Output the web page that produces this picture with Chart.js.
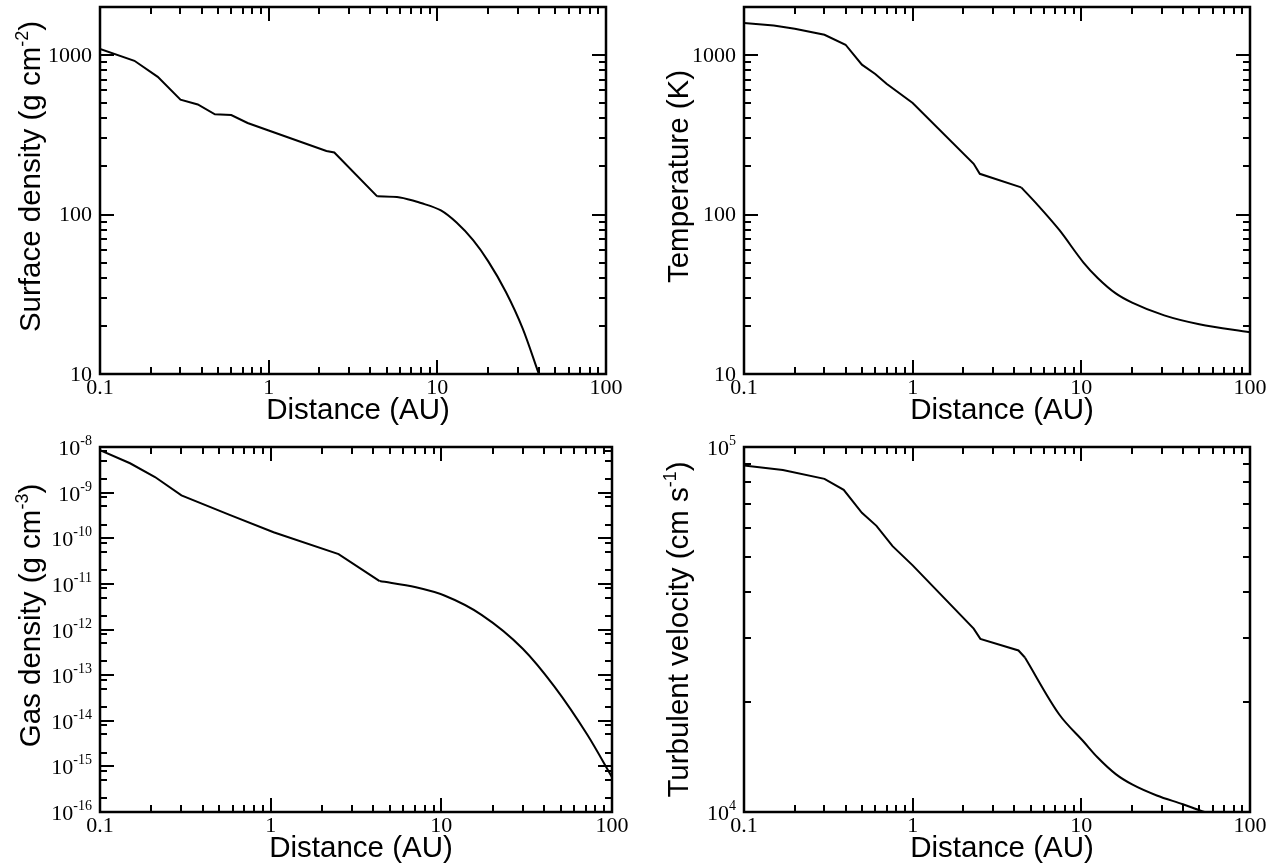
<!DOCTYPE html>
<html>
<head>
<meta charset="utf-8">
<title>Disk profiles</title>
<script src="https://cdn.jsdelivr.net/npm/chart.js@4.4.1/dist/chart.umd.min.js"></script>
<style>
  html, body { margin: 0; padding: 0; background: #fff; }
  #wrap { position: relative; width: 1276px; height: 863px; overflow: hidden; }
  #wrap canvas { position: absolute; left: 0; top: 0; }
</style>
</head>
<body>
<div id="wrap">
  <canvas id="sdChart" width="1276" height="863"></canvas>
  <canvas id="tempChart" width="1276" height="863"></canvas>
  <canvas id="rhoChart" width="1276" height="863"></canvas>
  <canvas id="velChart" width="1276" height="863"></canvas>
</div>
<script>
// ---- values (x = distance in AU) ----
// each profile has a kinked inner part and a smooth outer tail starting at *Knee
const sdR    = [0.1, 0.16, 0.22, 0.3, 0.38, 0.48, 0.6, 0.75, 1.0, 2.2, 2.45, 4.4, 6.0, 8.0, 10.5, 13, 16.3, 20, 25.5, 32, 40];
const sdVal  = [1090, 920, 730, 525, 490, 425, 420, 375, 336, 250, 245, 130, 128, 118, 106, 89, 69, 51, 32.7, 19.4, 10];
const sdKnee = 11;

const tempR    = [0.1, 0.15, 0.2, 0.3, 0.4, 0.5, 0.6, 0.7, 1.0, 2.3, 2.5, 4.4, 5.5, 7.4, 10.3, 12.5, 16, 20, 31, 50, 100];
const tempVal  = [1590, 1530, 1460, 1340, 1160, 870, 760, 660, 500, 208, 180, 148, 115, 80, 50, 40, 32, 28, 23.3, 20.5, 18.3];
const tempKnee = 11;

const rhoR    = [0.1, 0.15, 0.21, 0.3, 0.57, 1.04, 2.5, 4.35, 7.1, 10.5, 17.2, 30, 46, 72, 100];
const rhoVal  = [8.5e-9, 4.4e-9, 2.2e-9, 8.7e-10, 3.3e-10, 1.35e-10, 4.5e-11, 1.15e-11, 8.4e-12, 5.5e-12, 2.1e-12, 3.8e-13, 5.6e-14, 4.8e-15, 5.8e-16];
const rhoKnee = 7;

const velR    = [0.1, 0.17, 0.3, 0.39, 0.5, 0.61, 0.76, 1.0, 2.3, 2.52, 4.24, 4.63, 7.4, 10.3, 12.5, 16, 20, 28, 40, 52, 60];
const velVal  = [8.9e4, 8.65e4, 8.18e4, 7.63e4, 6.6e4, 6.08e4, 5.35e4, 4.74e4, 3.18e4, 2.98e4, 2.77e4, 2.65e4, 1.85e4, 1.56e4, 1.41e4, 1.27e4, 1.19e4, 1.11e4, 1.05e4, 1.005e4, 0.985e4];
const velKnee = 11;

// tick labels
const xTickVals    = [0.1, 1, 10, 100];
const sdTickVals   = [10, 100, 1000];
const tempTickVals = [10, 100, 1000];
const rhoTickExps  = [-16, -15, -14, -13, -12, -11, -10, -9, -8];
const velTickExps  = [4, 5];

// minor tick multipliers inside each decade
const fullMinor = [2, 3, 4, 5, 6, 7, 8, 9];
const rhoMinor  = [2, 5, 8];

const W = 1276, H = 863;
const FONT_TICK = '22px "Liberation Serif", "Times New Roman", serif';
const FONT_TICK_SUP = '14px "Liberation Serif", "Times New Roman", serif';
const FONT_TITLE = '29.5px "Liberation Sans", Arial, sans-serif';
const FONT_TITLE_SUP = '18px "Liberation Sans", Arial, sans-serif';

// minor/major tick positions of a log axis
function logTicks(min, max, minor) {
  const out = [];
  const mults = [1, ...minor];
  for (let d = Math.floor(Math.log10(min)) - 1; d <= Math.ceil(Math.log10(max)); d++) {
    mults.forEach(m => {
      const v = m * Math.pow(10, d);
      if (v >= min * 0.999 && v <= max * 1.001) out.push({ v, major: m === 1 });
    });
  }
  return out;
}

// draws the frame, inward ticks on all sides, tick labels and axis titles
function panelPlugin(cfg) {
  return {
    id: 'panel',
    afterDraw(chart) {
      const { ctx, chartArea: a } = chart;
      const x = chart.scales.x, y = chart.scales.y;
      ctx.save();
      ctx.strokeStyle = '#000';
      ctx.fillStyle = '#000';
      ctx.lineWidth = 2;
      ctx.beginPath();
      logTicks(x.min, x.max, fullMinor).forEach(t => {
        const px = Math.round(x.getPixelForValue(t.v));
        const len = t.major ? 14 : 7;
        ctx.moveTo(px, a.bottom); ctx.lineTo(px, a.bottom - len);
        ctx.moveTo(px, a.top); ctx.lineTo(px, a.top + len);
      });
      logTicks(y.min, y.max, cfg.yMinor || fullMinor).forEach(t => {
        const py = Math.round(y.getPixelForValue(t.v));
        const len = t.major ? 14 : 7;
        ctx.moveTo(a.left, py); ctx.lineTo(a.left + len, py);
        ctx.moveTo(a.right, py); ctx.lineTo(a.right - len, py);
      });
      ctx.stroke();
      ctx.lineWidth = 2.5;
      ctx.strokeRect(a.left, a.top, a.right - a.left, a.bottom - a.top);

      // x tick labels
      ctx.font = FONT_TICK;
      ctx.textAlign = 'center';
      ctx.textBaseline = 'alphabetic';
      xTickVals.forEach(v => ctx.fillText(String(v), x.getPixelForValue(v), a.bottom + 20));

      // y tick labels
      if (cfg.yTicks) {
        ctx.textAlign = 'right';
        ctx.textBaseline = 'middle';
        cfg.yTicks.forEach(v => ctx.fillText(String(v), a.left - 8, y.getPixelForValue(v) + 1));
      } else {
        ctx.textAlign = 'left';
        ctx.textBaseline = 'alphabetic';
        cfg.yExps.forEach(e => {
          const py = y.getPixelForValue(Math.pow(10, e));
          ctx.font = FONT_TICK;
          const w1 = ctx.measureText('10').width;
          ctx.font = FONT_TICK_SUP;
          const w2 = ctx.measureText(String(e)).width;
          const x0 = a.left - 8 - w1 - w2;
          ctx.font = FONT_TICK;
          ctx.fillText('10', x0, py + 8);
          ctx.font = FONT_TICK_SUP;
          ctx.fillText(String(e), x0 + w1, py - 2);
        });
      }

      // x title
      ctx.font = FONT_TITLE;
      ctx.textAlign = 'center';
      ctx.textBaseline = 'alphabetic';
      ctx.fillText('Distance (AU)', (a.left + a.right) / 2 + 5, a.bottom + 45);

      // y title, rotated, with superscript pieces
      const segs = cfg.yTitle;
      let total = 0;
      const widths = segs.map((s, i) => {
        ctx.font = i % 2 ? FONT_TITLE_SUP : FONT_TITLE;
        const w = ctx.measureText(s).width;
        total += w;
        return w;
      });
      ctx.translate(cfg.titleX, (a.top + a.bottom) / 2 + cfg.titleShift);
      ctx.rotate(-Math.PI / 2);
      ctx.textAlign = 'left';
      let cx = -total / 2;
      segs.forEach((s, i) => {
        ctx.font = i % 2 ? FONT_TITLE_SUP : FONT_TITLE;
        ctx.fillText(s, cx, i % 2 ? -12 : 0);
        cx += widths[i];
      });
      ctx.restore();
    }
  };
}

function makeChart(id, xs, ys, knee, yMin, yMax, area, cfg) {
  const pts = xs.map((r, i) => ({ x: r, y: ys[i] }));
  const line = { showLine: true, borderColor: '#000', borderWidth: 2, pointRadius: 0, fill: false };
  return new Chart(document.getElementById(id), {
    type: 'scatter',
    data: {
      datasets: [
        { ...line, data: pts.slice(0, knee + 1), tension: 0 },
        { ...line, data: pts.slice(knee), cubicInterpolationMode: 'monotone' }
      ]
    },
    options: {
      responsive: false, animation: false, events: [],
      layout: { padding: { left: area[0], top: area[1], right: W - area[2], bottom: H - area[3] } },
      plugins: { legend: { display: false }, tooltip: { enabled: false } },
      scales: {
        x: { type: 'logarithmic', min: 0.1, max: 100, display: false },
        y: { type: 'logarithmic', min: yMin, max: yMax, display: false }
      }
    },
    plugins: [panelPlugin(cfg)]
  });
}

makeChart('sdChart', sdR, sdVal, sdKnee, 10, 2000, [100, 7, 606, 374],
  { yTicks: sdTickVals, yTitle: ['Surface density (g cm', '-2', ')'], titleX: 40, titleShift: -14 });
makeChart('tempChart', tempR, tempVal, tempKnee, 10, 2000, [744, 7, 1250, 374],
  { yTicks: tempTickVals, yTitle: ['Temperature (K)'], titleX: 688, titleShift: -14 });
makeChart('rhoChart', rhoR, rhoVal, rhoKnee, 1e-16, 1e-8, [100, 447, 612, 812],
  { yExps: rhoTickExps, yMinor: rhoMinor, yTitle: ['Gas density (g cm', '-3', ')'], titleX: 40, titleShift: -14 });
makeChart('velChart', velR, velVal, velKnee, 1e4, 1e5, [744, 447, 1250, 812],
  { yExps: velTickExps, yTitle: ['Turbulent velocity (cm s', '-1', ')'], titleX: 688, titleShift: 0 });
</script>
</body>
</html>
